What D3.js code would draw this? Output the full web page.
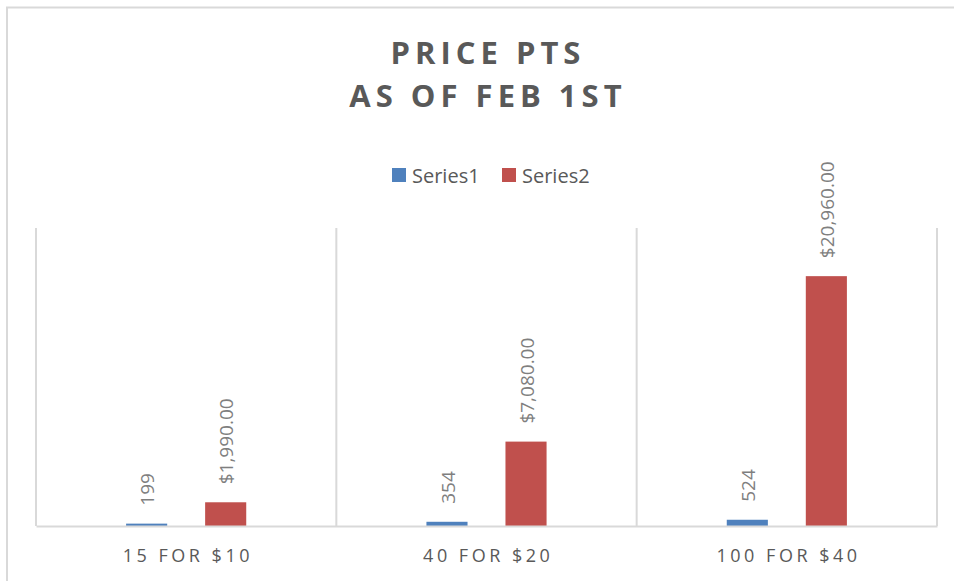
<!DOCTYPE html>
<html>
<head>
<meta charset="utf-8">
<script src="https://cdn.jsdelivr.net/npm/d3@7"></script>
<style>
  body { margin: 0; background: #fff; }
  text { font-family: "Open Sans", sans-serif; fill: #595959; }
</style>
</head>
<body>
<div id="chart"></div>
<script>
/* DATA */
const categories = ["15 FOR $10", "40 FOR $20", "100 FOR $40"];
const seriesNames = ["Series1", "Series2"];
const series1 = [199, 354, 524];
const series2 = [1990, 7080, 20960];
const titleLines = ["PRICE PTS", "AS OF FEB 1ST"];

const colors = { Series1: "#4F81BD", Series2: "#C0504D" };

const width = 954, height = 581;
const plot = { left: 36, right: 937, top: 228, bottom: 526 };

const rows = [];
categories.forEach((c, i) => {
  rows.push({ cat: c, series: "Series1", value: series1[i], label: d3.format(",")(series1[i]) });
  rows.push({ cat: c, series: "Series2", value: series2[i], label: "$" + d3.format(",.2f")(series2[i]) });
});

const svg = d3.select("#chart").append("svg")
  .attr("width", width)
  .attr("height", height);

// outer chart frame
svg.append("rect")
  .attr("x", 7).attr("y", 7.5)
  .attr("width", 980).attr("height", 600)
  .attr("fill", "none")
  .attr("stroke", "#d9d9d9")
  .attr("stroke-width", 2);

const xScale = d3.scaleBand()
  .domain(categories)
  .range([plot.left, plot.right]);

const xInner = d3.scaleBand()
  .domain(seriesNames)
  .range([0, xScale.bandwidth()])
  .paddingInner(0.48)
  .paddingOuter(1.14);

const yScale = d3.scaleLinear()
  .domain([0, 25000])
  .range([plot.bottom, plot.top]);

// category separators
svg.append("g")
  .selectAll("line")
  .data(categories.concat(["end"]))
  .join("line")
  .attr("x1", (d, i) => i < categories.length ? xScale(d) : plot.right)
  .attr("x2", (d, i) => i < categories.length ? xScale(d) : plot.right)
  .attr("y1", plot.top)
  .attr("y2", plot.bottom)
  .attr("stroke", "#d9d9d9")
  .attr("stroke-width", 2);

// bars
svg.append("g")
  .selectAll("rect")
  .data(rows)
  .join("rect")
  .attr("x", d => xScale(d.cat) + xInner(d.series))
  .attr("width", xInner.bandwidth())
  .attr("y", d => yScale(d.value))
  .attr("height", d => yScale(0) - yScale(d.value))
  .attr("fill", d => colors[d.series]);

// baseline axis
const xAxis = d3.axisBottom(xScale).tickSize(0).tickPadding(0);
const axisG = svg.append("g")
  .attr("transform", `translate(0, ${plot.bottom})`)
  .call(xAxis);
axisG.select(".domain").attr("stroke", "#d9d9d9").attr("stroke-width", 2);
axisG.selectAll("text")
  .attr("y", 36)
  .attr("dy", 0)
  .attr("dx", "1.7px")
  .style("font-size", "18px")
  .style("letter-spacing", "3.5px")
  .style("fill", "#595959");

// data labels (rotated)
svg.append("g")
  .selectAll("text")
  .data(rows)
  .join("text")
  .attr("transform", d => `translate(${xScale(d.cat) + xInner(d.series) + xInner.bandwidth() / 2 + 1}, ${yScale(d.value) - 18}) rotate(-90)`)
  .attr("dy", "0.35em")
  .attr("text-anchor", "start")
  .style("font-size", "19px")
  .style("fill", "#7f7f7f")
  .text(d => d.label);

// title
svg.append("g")
  .selectAll("text")
  .data(titleLines)
  .join("text")
  .attr("x", 488)
  .attr("y", (d, i) => 64 + i * 43)
  .attr("text-anchor", "middle")
  .style("font-size", "31px")
  .style("font-weight", "bold")
  .style("letter-spacing", "5px")
  .text(d => d);

// legend
const legend = svg.append("g")
  .selectAll("g")
  .data(seriesNames)
  .join("g")
  .attr("transform", (d, i) => `translate(${392 + i * 110}, 168)`);
legend.append("rect")
  .attr("width", 14).attr("height", 14)
  .attr("fill", d => colors[d]);
legend.append("text")
  .attr("x", 20).attr("y", 14.5)
  .style("font-size", "20px")
  .text(d => d);
</script>
</body>
</html>
